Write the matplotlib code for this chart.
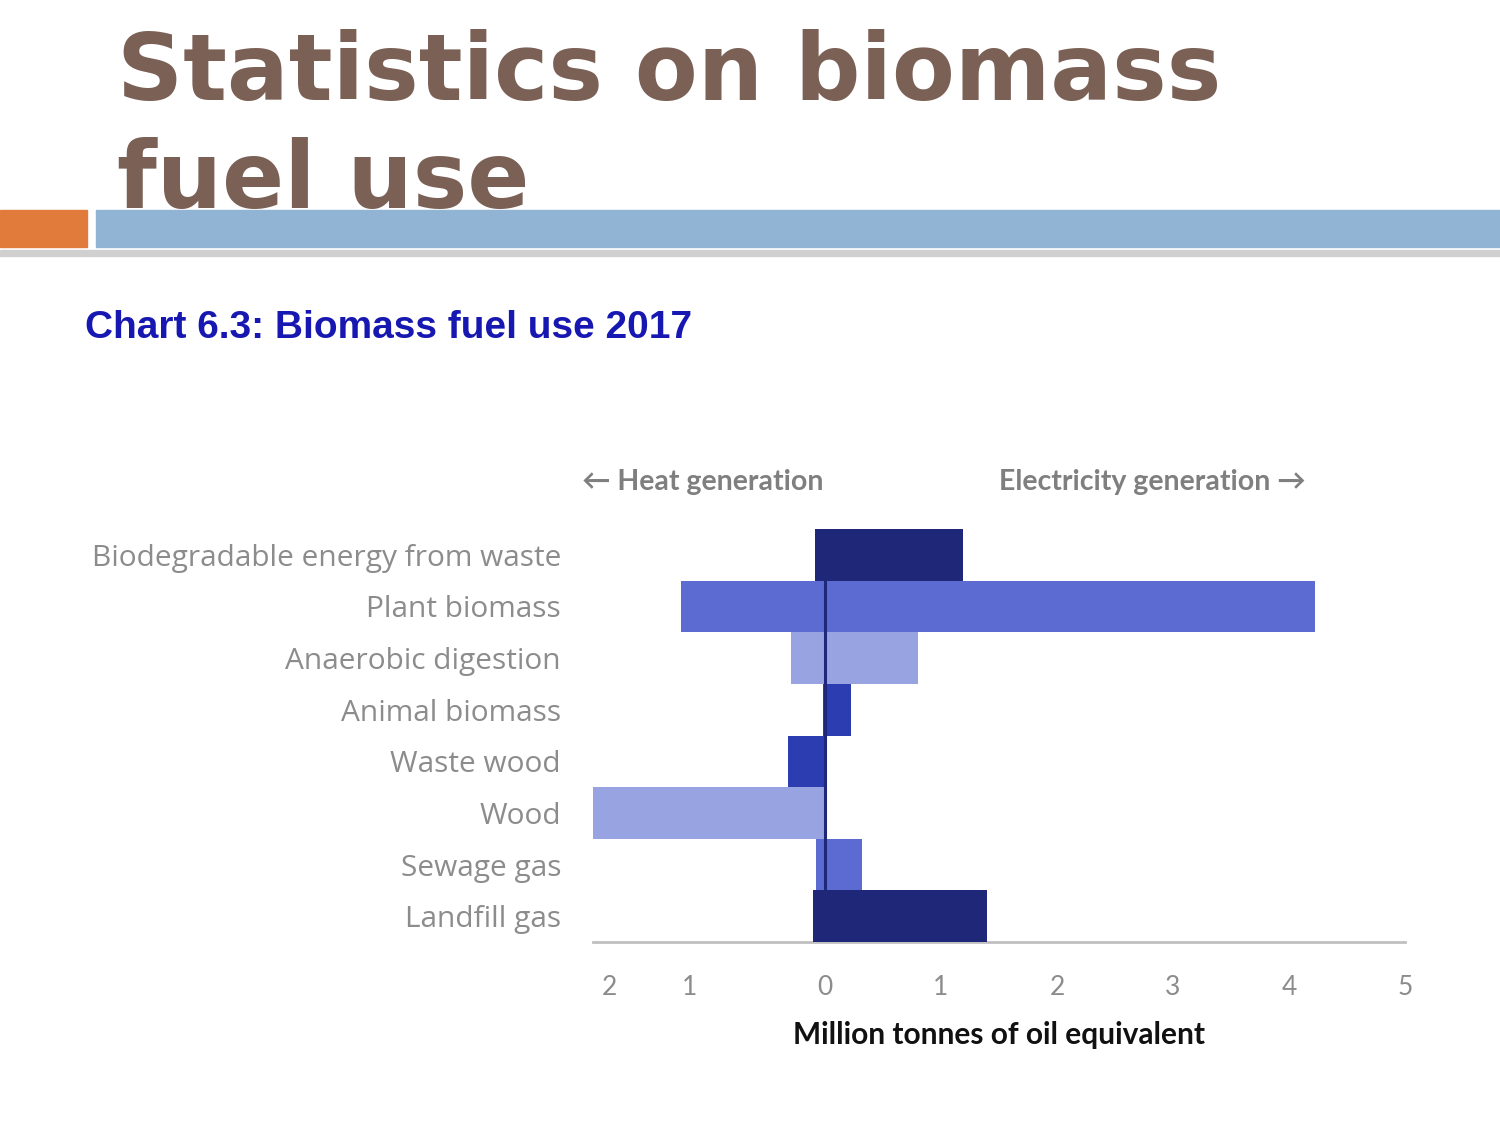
import matplotlib
matplotlib.use("Agg")
import matplotlib.pyplot as plt
from matplotlib.patches import Rectangle

# Biomass fuel use 2017, million tonnes of oil equivalent
categories = ["Biodegradable energy from waste", "Plant biomass", "Anaerobic digestion",
              "Animal biomass", "Waste wood", "Wood", "Sewage gas", "Landfill gas"]
heat = [0.09, 1.24, 0.29, 0.02, 0.32, 2.00, 0.08, 0.10]
electricity = [1.19, 4.22, 0.80, 0.22, 0.01, 0.00, 0.32, 1.40]
bar_colors = ["#1f2878", "#5b6bd1", "#98a3e2", "#2b3db0",
              "#2b3db0", "#98a3e2", "#5b6bd1", "#1f2878"]

# the left-hand tick labels sit off the linear grid in the original
tick_pos = [-1.86, -1.17, 0, 1, 2, 3, 4, 5]
tick_labels = ["2", "1", "0", "1", "2", "3", "4", "5"]

W, H = 1500, 1125
fig = plt.figure(figsize=(15, 11.25), dpi=100)

# slide title
title_color = "#7a6055"
fig.text(117 / W, 1 - 100 / H, "Statistics on biomass", fontsize=66, fontweight="bold",
         color=title_color, family="DejaVu Sans", va="baseline", ha="left", zorder=1)
fig.text(117 / W, 1 - 208 / H, "fuel use", fontsize=66, fontweight="bold",
         color=title_color, family="DejaVu Sans", va="baseline", ha="left", zorder=1)

# decorative bars under the title
fig.patches.append(Rectangle((0, 1 - 256 / H), 1, 6 / H, transform=fig.transFigure,
                             color="#d0d0d0", zorder=4))
fig.patches.append(Rectangle((0, 1 - 247 / H), 87 / W, 37 / H, transform=fig.transFigure,
                             color="#e07b3c", zorder=5))
fig.patches.append(Rectangle((96 / W, 1 - 247 / H), 1 - 96 / W, 37 / H,
                             transform=fig.transFigure, color="#92b4d4", zorder=5))

# chart caption
fig.text(85 / W, 1 - 328 / H, "Chart 6.3: Biomass fuel use 2017", fontsize=28,
         fontweight="bold", color="#1717b2", family="Liberation Sans", va="center")

# direction headers
hdr = dict(fontsize=20.5, fontweight="bold", color="#7f7f7f", family=["Lato", "DejaVu Sans"],
           va="center")
fig.text(824 / W, 1 - 482 / H, "\u2190 Heat generation", ha="right", **hdr)
fig.text(999 / W, 1 - 482 / H, "Electricity generation \u2192", ha="left", **hdr)

ax = fig.add_axes([593 / W, 1 - 942 / H, 812 / W, 413 / H])
y = list(range(len(categories)))
neg_heat = [-v for v in heat]
ax.barh(y, neg_heat, height=1.0, color=bar_colors, zorder=2)
ax.barh(y, electricity, height=1.0, color=bar_colors, zorder=2)
ax.vlines(0, -0.5, len(categories) - 0.5, color="#1f2878", lw=2.2, zorder=3)

ax.set_xlim(-2.0, 5.0)
ax.set_ylim(len(categories) - 0.5, -0.5)
ax.set_yticks(y)
ax.set_yticklabels(categories, fontsize=21.5, color="#8c8c8c", family="Open Sans")
ax.set_xticks(tick_pos)
ax.set_xticklabels(tick_labels, fontsize=19, color="#8c8c8c", family="Lato")
ax.tick_params(axis="both", length=0)
ax.tick_params(axis="x", pad=24)
ax.tick_params(axis="y", pad=23)
for s in ["top", "right", "left"]:
    ax.spines[s].set_visible(False)
ax.spines["bottom"].set_color("#c0c0c0")
ax.spines["bottom"].set_linewidth(2)
ax.spines["bottom"].set_zorder(1)

ax.set_xlabel("Million tonnes of oil equivalent", fontsize=21.5, fontweight="bold",
              color="#111111", family="Lato", labelpad=15)

fig.savefig("out.png", dpi=100, facecolor="white")
